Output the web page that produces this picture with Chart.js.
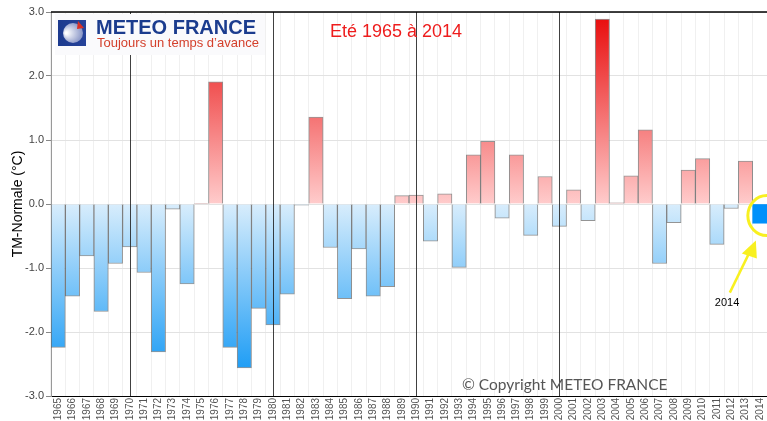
<!DOCTYPE html>
<html>
<head>
<meta charset="utf-8">
<script src="https://cdn.jsdelivr.net/npm/chart.js@4"></script>
<style>
  html, body { margin: 0; padding: 0; background: #ffffff; }
  #wrap { width: 767px; height: 421px; }
</style>
</head>
<body>
<div id="wrap"><canvas id="ecartChart" width="767" height="421"></canvas></div>
<script>
// Eté 1965 à 2014 - écart à la normale
const years = [
    '1965', '1966', '1967', '1968', '1969', '1970', '1971', '1972', '1973', '1974',
    '1975', '1976', '1977', '1978', '1979', '1980', '1981', '1982', '1983', '1984',
    '1985', '1986', '1987', '1988', '1989', '1990', '1991', '1992', '1993', '1994',
    '1995', '1996', '1997', '1998', '1999', '2000', '2001', '2002', '2003', '2004',
    '2005', '2006', '2007', '2008', '2009', '2010', '2011', '2012', '2013', '2014'
];
const ecarts = [
    -2.24, -1.44, -0.81, -1.68, -0.93, -0.67, -1.07, -2.31, -0.08, -1.25,
    0.01, 1.91, -2.24, -2.56, -1.63, -1.89, -1.41, -0.02, 1.36, -0.68,
    -1.48, -0.70, -1.44, -1.29, 0.13, 0.14, -0.58, 0.16, -0.99, 0.77,
    0.98, -0.22, 0.77, -0.49, 0.43, -0.35, 0.22, -0.26, 2.89, 0.02,
    0.44, 1.16, -0.93, -0.29, 0.53, 0.71, -0.63, -0.07, 0.67, -0.30
];
const decades = ['1970', '1980', '1990', '2000'];
const highlightYear = '2014';
const yTicks = [-3, -2, -1, 0, 1, 2, 3];

let gradient;
const barColor = (ctx) => {
    const chart = ctx.chart;
    const area = chart.chartArea;
    if (!area) return '#cccccc';
    if (years[ctx.dataIndex] === highlightYear) return '#0090fb';
    if (!gradient) {
        const y = chart.scales.y;
        gradient = chart.ctx.createLinearGradient(0, y.getPixelForValue(3), 0, y.getPixelForValue(-3));
        gradient.addColorStop(0, '#e80808');
        gradient.addColorStop(0.5, '#ffcccc');
        gradient.addColorStop(0.5, '#d8edfc');
        gradient.addColorStop(1, '#0090f4');
    }
    return gradient;
};

const extras = {
    id: 'extras',
    afterDatasetsDraw(chart) {
        const c = chart.ctx;
        const x = chart.scales.x;
        const a = chart.chartArea;
        c.save();
        // lignes des décennies
        c.strokeStyle = 'rgba(30,30,30,0.85)';
        c.lineWidth = 1;
        decades.forEach((d) => {
            const px = Math.round(x.getPixelForValue(years.indexOf(d))) + 0.5;
            c.beginPath();
            c.moveTo(px, a.top);
            c.lineTo(px, a.bottom);
            c.stroke();
        });
        c.restore();
    },
    afterDraw(chart) {
        const c = chart.ctx;
        const a = chart.chartArea;
        const x = chart.scales.x;
        const y = chart.scales.y;
        c.save();
        // bord haut
        c.strokeStyle = '#000000';
        c.lineWidth = 1.5;
        c.beginPath();
        c.moveTo(a.left, a.top);
        c.lineTo(a.right, a.top);
        c.stroke();

        // titre axe Y
        c.save();
        c.translate(18, 204);
        c.rotate(-Math.PI / 2);
        c.fillStyle = '#000000';
        c.font = '14px "Liberation Sans", Arial, sans-serif';
        c.textAlign = 'center';
        c.textBaseline = 'middle';
        c.fillText('TM-Normale (°C)', 0, 0);
        c.restore();

        // logo
        c.fillStyle = '#fafafc';
        c.fillRect(55, 14, 210, 41);
        const g = c.createLinearGradient(58, 0, 87, 0);
        g.addColorStop(0, '#1c3a8e');
        g.addColorStop(1, '#27439a');
        c.fillStyle = g;
        c.fillRect(58, 20, 28, 26);
        const rg = c.createRadialGradient(66, 33, 1, 72, 33, 11);
        rg.addColorStop(0, '#ffffff');
        rg.addColorStop(1, '#8794c6');
        c.fillStyle = rg;
        c.beginPath();
        c.arc(73, 33, 10, 0, Math.PI * 2);
        c.fill();
        c.fillStyle = '#d93025';
        c.beginPath();
        c.moveTo(78, 21);
        c.lineTo(84, 28);
        c.lineTo(77, 29);
        c.closePath();
        c.fill();
        c.fillStyle = '#1b3c8e';
        c.font = 'bold 20px "Liberation Sans", Arial, sans-serif';
        c.textBaseline = 'alphabetic';
        c.textAlign = 'left';
        c.fillText('METEO FRANCE', 96, 34);
        c.fillStyle = '#d4402c';
        c.font = '13px "Liberation Sans", Arial, sans-serif';
        c.fillText('Toujours un temps d\u2019avance', 97, 47);

        // titre période
        c.fillStyle = '#ee1c1c';
        c.font = '18px "Liberation Sans", Arial, sans-serif';
        c.fillText('Eté 1965 à 2014', 330, 37);

        // copyright
        c.fillStyle = '#555555';
        c.font = '15.5px Lato, "Open Sans", sans-serif';
        c.fillText('© Copyright METEO FRANCE', 462, 390);

        // repère 2014
        const bx = x.getPixelForValue(years.indexOf(highlightYear));
        const by = y.getPixelForValue(ecarts[years.indexOf(highlightYear)] / 2);
        c.strokeStyle = '#f8f020';
        c.fillStyle = '#f8f020';
        c.lineWidth = 3;
        c.beginPath();
        c.ellipse(bx + 7, by + 2, 19, 20, 0, 0, Math.PI * 2);
        c.stroke();
        c.lineWidth = 2.5;
        c.beginPath();
        c.moveTo(bx - 30, by + 79);
        c.lineTo(bx - 10, by + 38);
        c.stroke();
        c.beginPath();
        c.moveTo(bx - 4, by + 27);
        c.lineTo(bx - 18, by + 40);
        c.lineTo(bx - 3, by + 45);
        c.closePath();
        c.fill();
        c.fillStyle = '#000000';
        c.font = '11px "Liberation Sans", Arial, sans-serif';
        c.fillText(highlightYear, bx - 45, by + 92);
        c.restore();
    }
};

const data = {
    labels: years,
    datasets: [
        {
            data: ecarts,
            backgroundColor: barColor,
            borderColor: 'rgba(60,60,60,0.55)',
            borderWidth: (ctx) => (years[ctx.dataIndex] === highlightYear ? 0 : 1),
            borderSkipped: 'start',
            categoryPercentage: 1,
            barPercentage: 1,
        },
    ],
};

const options = {
    responsive: false,
    animation: false,
    devicePixelRatio: 1,
    layout: { padding: { top: 12, left: 0, right: 0, bottom: 0 } },
    plugins: { legend: { display: false }, tooltip: { enabled: false } },
    scales: {
        x: {
            offset: true,
            grid: { color: '#f0f0f0', drawTicks: false, offset: true },
            border: { color: '#000000', width: 1 },
            ticks: {
                autoSkip: false,
                minRotation: 90,
                maxRotation: 90,
                padding: 2,
                color: '#555555',
                font: { size: 10, family: '"Liberation Sans", Arial, sans-serif' },
            },
            afterFit: (scale) => {
                scale.height = 25;
                scale.paddingLeft = 0;
                scale.paddingRight = 0;
            },
        },
        y: {
            min: -3,
            max: 3,
            afterBuildTicks: (scale) => { scale.ticks = yTicks.map((v) => ({ value: v })); },
            grid: { color: '#e2e2e2', tickColor: '#888888', tickLength: 5 },
            border: { color: '#999999' },
            ticks: {
                padding: 2,
                color: '#444444',
                font: { size: 11, family: '"Liberation Sans", Arial, sans-serif' },
                callback: (v) => v.toFixed(1),
            },
            afterFit: (scale) => {
                scale.width = 51;
                scale.paddingTop = 0;
                scale.paddingBottom = 0;
            },
        },
    },
};

const chart = new Chart('ecartChart', { type: 'bar', data, options, plugins: [extras] });
</script>
</body>
</html>
